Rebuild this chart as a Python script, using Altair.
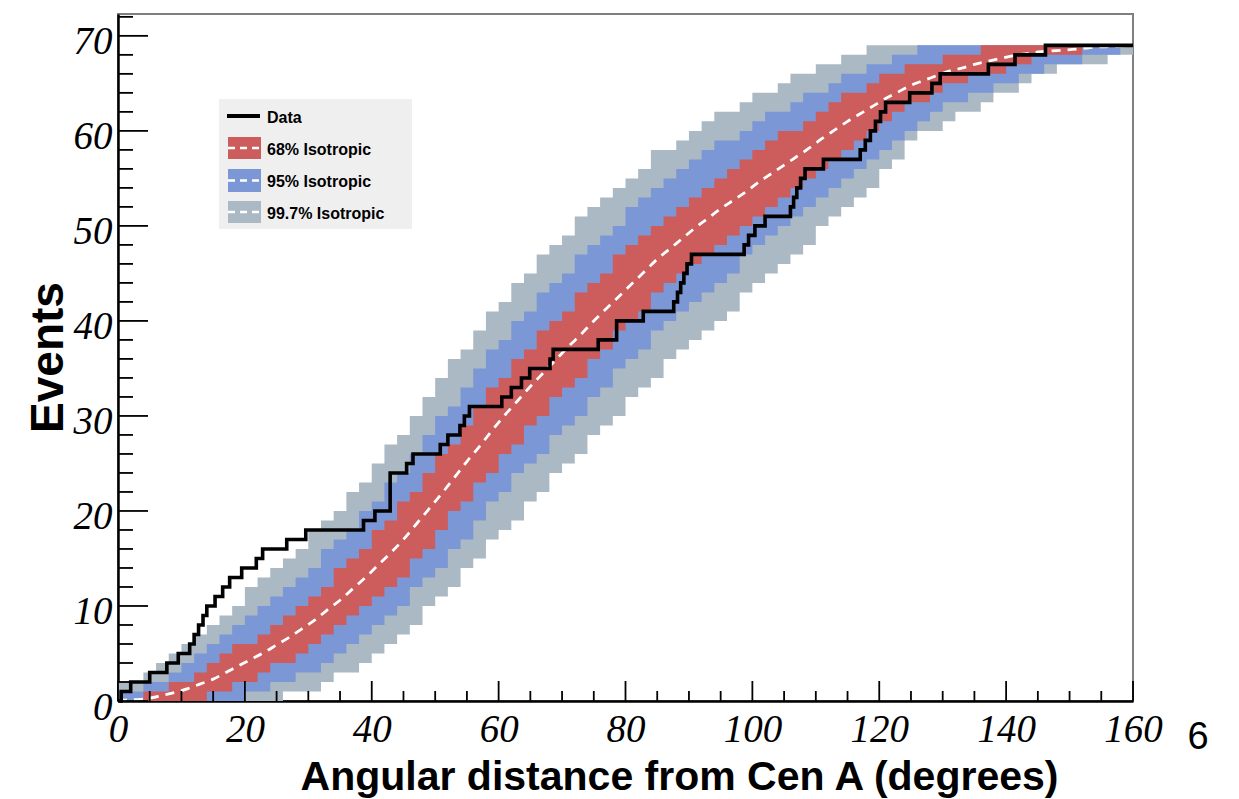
import altair as alt
import pandas as pd

# ---------------- data ----------------
bin_left = list(range(0, 160, 2))          # 2-degree bins, 0..158

red_lo = [0,0,0,0,0,0,0,1,1,2, 2,3,4,4,5,6,7,8,9,10,
          11,12,13,15,16,18,20,21,23,24, 26,27,29,30,32,33,34,36,37,39,
          40,41,43,44,45,46,47,48,49,50, 51,52,53,54,55,56,57,58,59,60,
          61,62,63,63,64,65,65,66,66,66, 67,67,68,68,68,68,69,69,69,69]
red_hi = [0,0,1,1,2,2,3,4,5,6, 6,7,8,9,10,11,12,14,15,16,
          18,19,21,22,24,26,27,29,31,33, 34,36,37,39,40,41,43,44,45,47,
          48,49,50,51,52,53,54,55,56,57, 58,59,60,60,61,62,63,64,64,65,
          66,66,67,67,67,68,68,68,69,69, 69,69,69,69,69,69,69,69,69,69]
blue_lo = [0,0,0,0,0,0,0,0,0,0, 1,1,2,2,3,3,4,5,6,7,
           8,9,10,12,13,14,16,17,19,21, 22,24,25,26,28,29,30,32,33,35,
           36,37,39,40,41,42,43,44,45,47, 48,49,50,51,52,53,54,55,56,57,
           58,59,60,61,62,63,63,64,64,65, 65,66,66,67,67,67,68,68,68,69]
blue_hi = [1,1,2,2,3,4,5,6,7,8, 9,10,11,12,13,14,16,17,18,20,
           21,23,24,26,28,30,31,33,35,37, 38,40,41,43,44,45,47,48,49,50,
           52,53,54,55,56,57,58,59,59,60, 61,62,62,63,64,64,65,66,66,67,
           67,68,68,69,69,69,69,69,69,69, 69,69,69,69,69,69,69,69,69,69]
gray_lo = [0,0,0,0,0,0,0,0,0,0, 0,0,0,1,1,1,2,3,3,4,
           5,6,7,8,10,11,12,14,15,17, 18,19,21,22,24,25,26,28,29,30,
           32,33,34,36,37,38,39,40,41,43, 44,45,46,47,48,50,51,52,53,54,
           56,57,59,60,60,61,62,62,63,64, 64,65,66,66,67,67,67,67,68,68]
gray_hi = [2,2,3,4,5,6,7,8,9,10, 12,13,14,15,16,18,19,20,22,23,
           25,27,28,30,32,34,36,37,39,41, 42,44,45,47,48,49,51,52,53,54,
           55,56,58,58,59,60,61,62,62,63, 64,64,65,66,66,67,67,68,68,69,
           69,69,69,69,69,69,69,69,69,69, 69,69,69,69,69,69,69,69,69,69]

median_x = [0] + [b + 1 for b in bin_left] + [160]
median_v = [0,
            0.1,0.15,0.3,0.6,0.9,1.3,1.8,2.3,3.0,3.7,
            4.4,5.1,5.9,6.7,7.6,8.5,9.6,10.6,11.8,13.0,
            14.3,15.6,17.0,18.6,20.2,21.8,23.5,25.2,26.8,28.5,
            30.1,31.6,33.1,34.5,35.9,37.3,38.6,40.0,41.3,42.6,
            43.9,45.2,46.5,47.6,48.7,49.8,50.8,51.8,52.7,53.6,
            54.6,55.5,56.4,57.3,58.2,59.2,60.1,61.0,61.8,62.6,
            63.4,64.1,64.8,65.3,65.8,66.3,66.6,67.0,67.3,67.6,
            67.9,68.1,68.3,68.4,68.5,68.6,68.75,68.85,68.9,68.95,
            68.97]

data_angle = [0, 0.5, 2.0, 5.0, 7.7, 9.5, 11.3, 12.0, 12.7, 13.4, 14.0, 15.3, 16.5, 17.6,
              19.5, 21.8, 22.8, 26.6, 29.6, 38.7, 40.5, 42.9, 45.5, 46.5, 50.8, 52.0,
              53.9, 54.6, 55.4, 60.5, 62.0, 63.6, 64.9, 68.1, 68.6, 75.7, 78.6, 82.8,
              87.6, 88.2, 88.7, 89.2, 89.7, 90.4, 98.7, 99.4, 100.4, 102.0, 106.0, 106.5,
              107.0, 107.6, 108.3, 111.2, 117.0, 117.8, 118.6, 119.4, 120.2, 121.0,
              124.8, 128.3, 129.6, 137.2, 141.4, 146.2, 160.0]
data_count = [0, 1, 2, 3, 4, 5, 6, 7, 8, 9, 10, 11, 12, 13,
              14, 15, 16, 17, 18, 19, 20, 24, 25, 26, 27, 28,
              29, 30, 31, 32, 33, 34, 35, 36, 37, 38, 40, 41,
              42, 43, 44, 45, 46, 47, 48, 49, 50, 51, 52, 53,
              54, 55, 56, 57, 58, 59, 60, 61, 62, 63,
              64, 65, 66, 67, 68, 69, 69]

x_major = [0, 20, 40, 60, 80, 100, 120, 140, 160]
x_minor = [5, 10, 15, 25, 30, 35, 45, 50, 55, 65, 70, 75, 85, 90, 95,
           105, 110, 115, 125, 130, 135, 145, 150, 155]
y_major = [0, 10, 20, 30, 40, 50, 60, 70]
y_minor = [2, 4, 6, 8, 12, 14, 16, 18, 22, 24, 26, 28, 32, 34, 36, 38,
           42, 44, 46, 48, 52, 54, 56, 58, 62, 64, 66, 68, 72]

legend_labels = ["Data", "68% Isotropic", "95% Isotropic", "99.7% Isotropic"]

RED, BLUE, GRAY = "#cd5c5c", "#7b97d6", "#aab9c3"

# ---------------- build ----------------
W, H = 1015, 687
xs = alt.Scale(domain=[0, 160], nice=False, zero=False)
ys = alt.Scale(domain=[0, 72.3], nice=False, zero=False)

bands = pd.DataFrame({"x": bin_left, "rlo": red_lo, "rhi": red_hi,
                      "blo": blue_lo, "bhi": blue_hi, "glo": gray_lo, "ghi": gray_hi})
last = bands.iloc[[-1]].copy()
last["x"] = 160
bands = pd.concat([bands, last], ignore_index=True)

XT = "Angular distance from Cen A (degrees)"
YT = "Events"

x_axis = alt.Axis(values=x_major, format="d", ticks=False, tickSize=0, grid=False,
                  domain=True, domainColor="black", domainWidth=2.5,
                  labelFont="Liberation Serif", labelFontStyle="italic", labelFontSize=39,
                  labelColor="black", labelPadding=40, labelBaseline="alphabetic",
                  labelOverlap=False, labelFlush=False,
                  title=XT, titleFont="Liberation Sans",
                  titleFontWeight="bold", titleFontSize=41, titleColor="black",
                  titleX=561, titleY=88, titleAlign="center", titleBaseline="alphabetic")
y_axis = alt.Axis(values=y_major, format="d", ticks=False, tickSize=0, grid=False,
                  domain=True, domainColor="black", domainWidth=2.5,
                  labelFont="Liberation Serif", labelFontStyle="italic", labelFontSize=39,
                  labelColor="black", labelPadding=6, labelAlign="right",
                  labelBaseline="alphabetic", labelOffset=18,
                  labelOverlap=False, labelFlush=False,
                  title=YT, titleFont="Liberation Sans", titleFontWeight="bold",
                  titleFontSize=46, titleColor="black", titleAngle=270,
                  titleX=-56, titleY=343, titleAlign="center", titleBaseline="alphabetic")


def X(field):
    return alt.X(field, type="quantitative", scale=xs, axis=x_axis, title=XT)


def Y(field):
    return alt.Y(field, type="quantitative", scale=ys, axis=y_axis, title=YT)


def band(lo, hi, color):
    return alt.Chart(bands).mark_area(interpolate="step-after", color=color, opacity=1).encode(
        x=X("x"), y=Y(lo), y2=alt.Y2(hi),
    )


gray = band("glo", "ghi", GRAY)
blue = band("blo", "bhi", BLUE)
red = band("rlo", "rhi", RED)

med = alt.Chart(pd.DataFrame({"x": median_x, "v": median_v})).mark_line(
    color="white", strokeWidth=2.8, strokeDash=[9, 7], interpolate="monotone").encode(
    x=X("x"), y=Y("v"))

data_line = alt.Chart(pd.DataFrame({"x": data_angle, "n": data_count})).mark_line(
    color="black", strokeWidth=3.6, interpolate="step-after").encode(
    x=X("x"), y=Y("n"))


def yticks(vals, length):
    return alt.Chart(pd.DataFrame({"v": vals})).mark_rule(color="black", strokeWidth=1.8).encode(
        y=Y("v"), x=alt.value(0), x2=alt.value(length))


def xticks(vals, length):
    return alt.Chart(pd.DataFrame({"d": vals})).mark_rule(color="black", strokeWidth=1.8).encode(
        x=X("d"), y=alt.value(H), y2=alt.value(H - length))


one = pd.DataFrame({"k": [0]})


def rect(x1, x2, y1, y2, color):
    return alt.Chart(one).mark_rect(color=color).encode(
        x=alt.value(x1), x2=alt.value(x2), y=alt.value(y1), y2=alt.value(y2))


def hline(x1, x2, y, color, width, dash=None):
    kw = dict(color=color, strokeWidth=width)
    if dash:
        kw["strokeDash"] = dash
    return alt.Chart(one).mark_rule(**kw).encode(
        x=alt.value(x1), x2=alt.value(x2), y=alt.value(y))


def label(txt, x, y, size=16, bold=True, align="left", font="Liberation Sans"):
    return alt.Chart(one).mark_text(text=txt, align=align, baseline="alphabetic", font=font,
                                    fontWeight="bold" if bold else "normal",
                                    fontSize=size, color="black").encode(
        x=alt.value(x), y=alt.value(y))


legend = [
    rect(101, 294, 85, 215, "#efefef"),
    hline(109, 142, 102, "black", 4),
    rect(110, 143, 123, 145, RED), hline(110, 143, 134, "white", 2.5, [7, 5]),
    rect(110, 143, 155, 178, BLUE), hline(110, 143, 166.5, "white", 2.5, [7, 5]),
    rect(110, 143, 187, 209, GRAY), hline(110, 143, 198, "white", 2.5, [7, 5]),
    label(legend_labels[0], 149, 109),
    label(legend_labels[1], 149, 141),
    label(legend_labels[2], 149, 173),
    label(legend_labels[3], 149, 204.5),
]

page_no = label("6", 1080, 735, size=38, bold=False, align="center")

chart = alt.layer(
    gray, blue, red, med, data_line,
    yticks(y_major, 30), yticks(y_minor, 15), xticks(x_major, 20), xticks(x_minor, 10),
    *legend, page_no,
).properties(
    width=W, height=H,
    autosize=alt.AutoSizeParams(type="none"),
    padding={"left": 118, "top": 14, "right": 106, "bottom": 98},
).configure_view(stroke="#7f7f7f", strokeWidth=2)

chart.save("out.html", embed_options={"renderer": "svg", "actions": False})
